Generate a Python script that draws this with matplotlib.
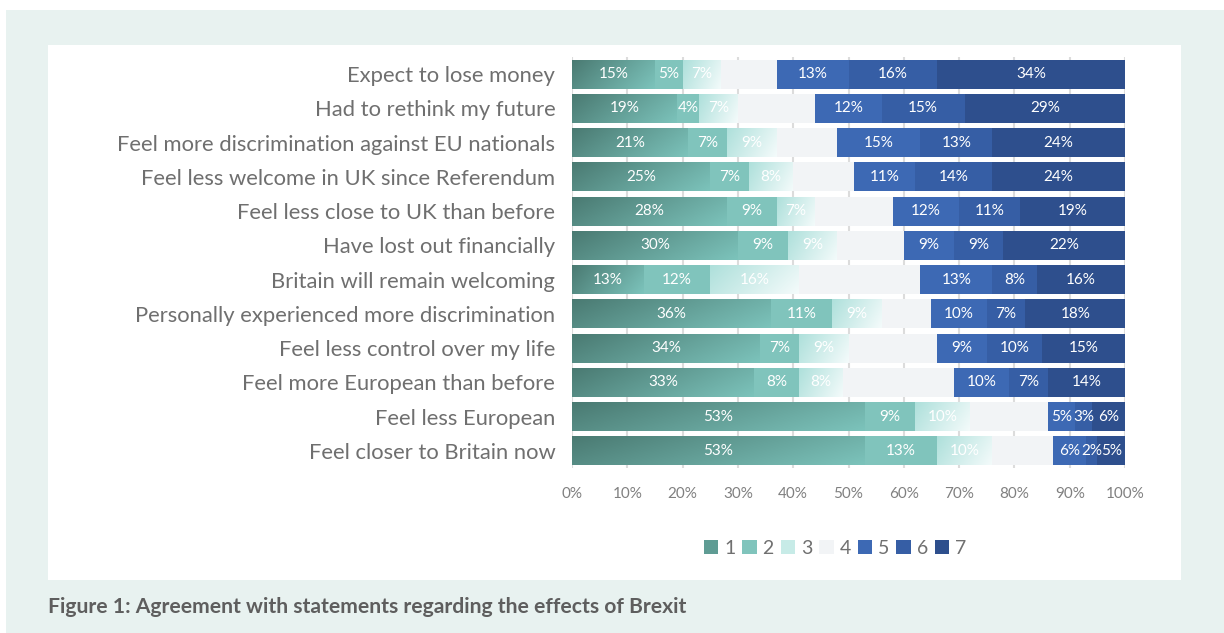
import numpy as np
import matplotlib.pyplot as plt
from matplotlib.patches import Rectangle, Patch
from matplotlib.colors import LinearSegmentedColormap

plt.rcParams["font.family"] = ["Lato", "DejaVu Sans"]

statements = [
    "Expect to lose money",
    "Had to rethink my future",
    "Feel more discrimination against EU nationals",
    "Feel less welcome in UK since Referendum",
    "Feel less close to UK than before",
    "Have lost out financially",
    "Britain will remain welcoming",
    "Personally experienced more discrimination",
    "Feel less control over my life",
    "Feel more European than before",
    "Feel less European",
    "Feel closer to Britain now",
]
s1 = [15, 19, 21, 25, 28, 30, 13, 36, 34, 33, 53, 53]
s2 = [5, 4, 7, 7, 9, 9, 12, 11, 7, 8, 9, 13]
s3 = [7, 7, 9, 8, 7, 9, 16, 9, 9, 8, 10, 10]
s5 = [13, 12, 15, 11, 12, 9, 13, 10, 9, 10, 5, 6]
s6 = [16, 15, 13, 14, 11, 9, 8, 7, 10, 7, 3, 2]
s7 = [34, 29, 24, 24, 19, 22, 16, 18, 15, 14, 6, 5]
# point 4 is not labelled, it is what is left to 100%
s4 = [100 - (a + b + c + d + e + f) for a, b, c, d, e, f in zip(s1, s2, s3, s5, s6, s7)]
levels = ["1", "2", "3", "4", "5", "6", "7"]

colors = ["#5f9c94", "#80c4bc", "#cdeeeb", "#f2f4f6", "#3d69b4", "#365ea5", "#2e4f8d"]
grad1 = LinearSegmentedColormap.from_list("g1", ["#4a7a72", "#7cc3bb"])
grad3 = LinearSegmentedColormap.from_list("g3", ["#aee0db", "#f4fbfb"])

fig = plt.figure(figsize=(12.24, 6.33), dpi=100)
fig.patches.append(Rectangle((6 / 1224, 0), 1, 623 / 633, transform=fig.transFigure,
                             facecolor="#e8f2f0", edgecolor="none", zorder=-10))
fig.patches.append(Rectangle((48 / 1224, 1 - 580 / 633), (1181 - 48) / 1224, (580 - 45) / 633,
                             transform=fig.transFigure, facecolor="white", edgecolor="none", zorder=-9))

ax = fig.add_axes([572 / 1224, 1 - 468 / 633, (1125 - 572) / 1224, (468 - 57) / 633])
ax.set_facecolor("none")

y = np.arange(len(statements))
series = [s1, s2, s3, s4, s5, s6, s7]
left = np.zeros(len(statements))
height = 0.85

# diagonal gradient (top-left dark -> bottom-right light)
gx, gy = np.meshgrid(np.linspace(0, 1, 64), np.linspace(0, 1, 16))
diag = 0.75 * gx + 0.25 * gy

for i, vals in enumerate(series):
    vals = np.array(vals, dtype=float)
    grad = grad1 if i == 0 else grad3 if i == 2 else None
    bars = ax.barh(y, vals, left=left, height=height,
                   color="none" if grad else colors[i], edgecolor="none", zorder=2)
    if grad is not None:
        for b in bars:
            x0, y0 = b.get_x(), b.get_y()
            im = ax.imshow(diag, cmap=grad, aspect="auto", zorder=2, interpolation="bilinear",
                           extent=(x0, x0 + b.get_width(), y0 + b.get_height(), y0))
            im.set_clip_path(b)
    if i != 3:
        ax.bar_label(bars, labels=[f"{int(v)}%" for v in vals], label_type="center",
                     color="white", fontsize=11, zorder=3)
    left += vals

ax.set_xlim(0, 100)
ax.set_ylim(len(statements) - 0.5, -0.5)
ax.set_xticks(np.arange(0, 101, 10))
ax.set_xticklabels([f"{t}%" for t in range(0, 101, 10)])
ax.set_yticks(y)
ax.set_yticklabels(statements)
ax.tick_params(axis="y", length=0, pad=12, labelsize=15.8, labelcolor="#6f6f6f")
ax.tick_params(axis="x", length=0, pad=14, labelsize=11, labelcolor="#808080")
ax.grid(axis="x", color="#dcdcdc", linewidth=1.5, zorder=0)
ax.set_axisbelow(True)
for s in ax.spines.values():
    s.set_visible(False)

handles = [Patch(facecolor=c, edgecolor="none") for c in ["#5f9c94", "#80c4bc", "#c7ebe7"] + colors[3:]]
fig.legend(handles, levels, loc="center", bbox_to_anchor=(835 / 1224, 1 - 548 / 633), ncol=7,
           frameon=False, fontsize=14, labelcolor="#707070", handlelength=0.75, handleheight=0.75,
           handletextpad=0.3, columnspacing=0.35)

fig.text(48 / 1224, 1 - 607 / 633, "Figure 1: Agreement with statements regarding the effects of Brexit",
         fontsize=15.2, fontweight="bold", color="#5e5e5e", va="center")

fig.savefig("out.png", dpi=100)
